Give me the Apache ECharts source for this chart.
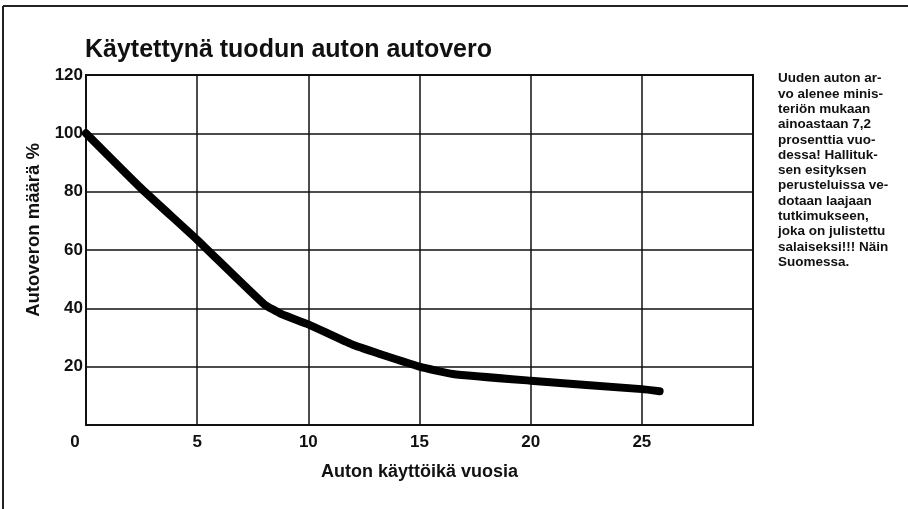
<!DOCTYPE html>
<html>
<head>
<meta charset="utf-8">
<script src="https://cdn.jsdelivr.net/npm/echarts@6/dist/echarts.min.js"></script>
<style>
html,body{margin:0;padding:0;background:#fff;}
#c{width:908px;height:509px;}
</style>
</head>
<body>
<div id="c"></div>
<script>
const titleText = 'Käytettynä tuodun auton autovero';
const xAxisName = 'Auton käyttöikä vuosia';
const yAxisName = 'Autoveron määrä %';
const years = [0, 2.5, 5, 8.0, 8.8, 10, 12, 15, 16.5, 20, 25, 25.8];
const taxPercent = [100, 81, 63.5, 41.5, 38, 34.5, 27.5, 20, 17.5, 15.2, 12.3, 11.6];
const noteLines = [
  'Uuden auton ar-',
  'vo alenee minis-',
  'teriön mukaan',
  'ainoastaan 7,2',
  'prosenttia vuo-',
  'dessa! Hallituk-',
  'sen esityksen',
  'perusteluissa ve-',
  'dotaan laajaan',
  'tutkimukseen,',
  'joka on julistettu',
  'salaiseksi!!! Näin',
  'Suomessa.'
];

const chart = echarts.init(document.getElementById('c'), null, {renderer: 'canvas'});
const font = '"Liberation Sans", Arial, Helvetica, sans-serif';
chart.setOption({
  animation: false,
  backgroundColor: '#ffffff',
  title: {
    text: titleText,
    left: 80, top: 33,
    textStyle: {fontFamily: font, fontSize: 25, fontWeight: 'bold', color: '#111'}
  },
  grid: {left: 86, right: 155, top: 75, bottom: 84},
  xAxis: {
    type: 'value', min: 0, max: 30, interval: 5,
    name: xAxisName, nameLocation: 'middle', nameGap: 38,
    nameTextStyle: {fontFamily: font, fontSize: 18, fontWeight: 'bold', color: '#111'},
    axisLine: {show: true, lineStyle: {color: '#111', width: 2}},
    axisTick: {show: false},
    axisLabel: {
      margin: 9,
      fontFamily: font, fontSize: 17, fontWeight: 'bold', color: '#111',
      formatter: function (v) { if (v === 30) return ''; if (v === 0) return '{z|0}'; return String(v); },
      rich: {z: {fontFamily: font, fontSize: 17, fontWeight: 'bold', color: '#111', padding: [0, 22, 0, 0]}}
    },
    splitLine: {show: true, lineStyle: {color: '#111', width: 1.5}}
  },
  yAxis: {
    type: 'value', min: 0, max: 120, interval: 20,
    name: yAxisName, nameLocation: 'middle', nameGap: 38, nameRotate: 90,
    nameTextStyle: {fontFamily: font, fontSize: 18.5, fontWeight: 'bold', color: '#111', padding: [0, 0, 0, 40]},
    axisLine: {show: true, lineStyle: {color: '#111', width: 2}},
    axisTick: {show: false},
    axisLabel: {
      margin: 3,
      fontFamily: font, fontSize: 17, fontWeight: 'bold', color: '#111',
      formatter: function (v) { return v === 0 ? '' : String(v); }
    },
    splitLine: {show: true, lineStyle: {color: '#111', width: 1.5}}
  },
  graphic: [
    {type: 'line', shape: {x1: 3, y1: 6, x2: 908, y2: 6}, style: {stroke: '#222', lineWidth: 2}},
    {type: 'line', shape: {x1: 3, y1: 6, x2: 3, y2: 509}, style: {stroke: '#222', lineWidth: 2}},
    {type: 'rect', shape: {x: 86, y: 75, width: 667, height: 350}, style: {fill: 'none', stroke: '#111', lineWidth: 2}, silent: true},
    {type: 'text', left: 778, top: 71,
      style: {text: noteLines.join('\n'), fontFamily: font, fontSize: 13.5, fontWeight: 'bold', lineHeight: 15.3, fill: '#111'}}
  ],
  series: [{
    type: 'line',
    data: years.map((x, i) => [x, taxPercent[i]]),
    showSymbol: false,
    smooth: 0.15,
    lineStyle: {color: '#000', width: 8, cap: 'round', join: 'round'}
  }]
});
</script>
</body>
</html>
